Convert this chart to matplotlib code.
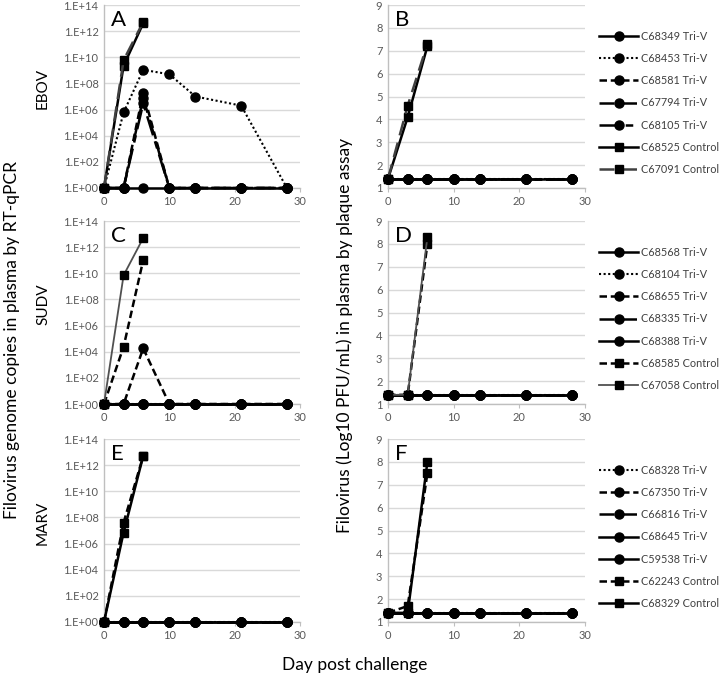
import matplotlib
matplotlib.use("Agg")
import math
import matplotlib.pyplot as plt
from matplotlib.ticker import FixedLocator, FuncFormatter

plt.rcParams['font.family'] = ['Lato', 'DejaVu Sans']

days = [0, 3, 6, 10, 14, 21, 28]

# EBOV (A: RT-qPCR, B: plaque)
ebov_names = ["C68349 Tri-V", "C68453 Tri-V", "C68581 Tri-V", "C67794 Tri-V",
              "C68105 Tri-V", "C68525 Control", "C67091 Control"]
ebov_pcr = [
    [1, 1, 1, 1, 1, 1, 1],
    [1, 6e5, 1.1e9, 5e8, 1e7, 2e6, 1],
    [1, 1, 2e7, 1, 1, 1, 1],
    [1, 1, 8e6, 1, 1, 1, 1],
    [1, 1, 3e6, 1, 1, 1, 1],
    [1, 2.3e9, 4e12],
    [1, 6e9, 5e12],
]
ebov_pfu = [
    [1.4] * 7, [1.4] * 7, [1.4] * 7, [1.4] * 7, [1.4] * 7,
    [1.4, 4.1, 7.2],
    [1.4, 4.6, 7.3],
]

# SUDV (C, D)
sudv_names = ["C68568 Tri-V", "C68104 Tri-V", "C68655 Tri-V", "C68335 Tri-V",
              "C68388 Tri-V", "C68585 Control", "C67058 Control"]
sudv_pcr = [
    [1, 1, 1, 1, 1, 1, 1],
    [1, 1, 1, 1, 1, 1, 1],
    [1, 1, 1.8e4, 1, 1, 1, 1],
    [1, 1, 1, 1, 1, 1, 1],
    [1, 1, 1, 1, 1, 1, 1],
    [1, 2.4e4, 1e11],
    [1, 7e9, 5e12],
]
sudv_pfu = [
    [1.4] * 7, [1.4] * 7, [1.4] * 7, [1.4] * 7, [1.4] * 7,
    [1.4, 1.4, 8.0],
    [1.4, 1.4, 8.3],
]

# MARV (E, F)
marv_names = ["C68328 Tri-V", "C67350 Tri-V", "C66816 Tri-V", "C68645 Tri-V",
              "C59538 Tri-V", "C62243 Control", "C68329 Control"]
marv_pcr = [
    [1, 1, 1, 1, 1, 1, 1],
    [1, 1, 1, 1, 1, 1, 1],
    [1, 1, 1, 1, 1, 1, 1],
    [1, 1, 1, 1, 1, 1, 1],
    [1, 1, 1, 1, 1, 1, 1],
    [1, 4e7, 5e12],
    [1, 7e6, 5e12],
]
marv_pfu = [
    [1.4] * 7, [1.4] * 7, [1.4] * 7, [1.4] * 7, [1.4] * 7,
    [1.4, 1.7, 7.5],
    [1.4, 1.4, 8.0],
]

DOT = (0, (1, 1.2))
SDASH = (0, (3, 1.5))
LDASH = (0, (6, 3))
DASHDOT = (0, (8, 2.5, 3, 2.5))

# (linestyle, marker, color, linewidth) per series
ebov_styles = [('-', 'o', 'black', 1.8), (DOT, 'o', 'black', 1.5), (SDASH, 'o', 'black', 1.8),
               (LDASH, 'o', 'black', 1.8), (DASHDOT, 'o', 'black', 1.8),
               ('-', 's', 'black', 1.8), (LDASH, 's', '#404040', 1.8)]
sudv_styles = [('-', 'o', 'black', 1.8), (DOT, 'o', 'black', 1.5), (SDASH, 'o', 'black', 1.8),
               (LDASH, 'o', 'black', 1.8), ('-', 'o', 'black', 1.8),
               (SDASH, 's', 'black', 1.8), ('-', 's', '#505050', 1.3)]
marv_styles = [(DOT, 'o', 'black', 1.5), (SDASH, 'o', 'black', 1.8), (LDASH, 'o', 'black', 1.8),
               ('-', 'o', 'black', 1.8), ('-', 'o', 'black', 1.8),
               (SDASH, 's', 'black', 1.8), ('-', 's', 'black', 1.8)]

fig = plt.figure(figsize=(7.2, 6.76), dpi=100)
W, H = 720.0, 676.0


def make_ax(x0, x1, ytop, ybot):
    return fig.add_axes([x0 / W, 1 - ybot / H, (x1 - x0) / W, (ybot - ytop) / H])


def style_ax(ax):
    for s in ['top', 'right']:
        ax.spines[s].set_visible(False)
    for s in ['left', 'bottom']:
        ax.spines[s].set_color('#bfbfbf')
        ax.spines[s].set_linewidth(1)
    ax.grid(axis='y', color='#d9d9d9', linewidth=1)
    ax.set_axisbelow(True)
    ax.set_xlim(0, 30)
    ax.xaxis.set_major_locator(FixedLocator([0, 10, 20, 30]))
    ax.tick_params(axis='x', colors='#bfbfbf', labelcolor='#595959', labelsize=8,
                   length=3, direction='out', pad=3)
    ax.tick_params(axis='y', length=0, labelcolor='#595959', labelsize=8, pad=4)


def draw(ax, names, data, styles, log):
    for name, vals, st in zip(names, data, styles):
        ls, mk, col, lw = st
        xs = days[:len(vals)]
        ax.plot(xs, vals, linestyle=ls, marker=mk, color=col, linewidth=lw,
                markerfacecolor='black', markeredgecolor='black',
                markersize=6.5 if mk == 'o' else 6, label=name, clip_on=False,
                zorder=3 + (2 if mk == 's' else 0))
    if log:
        ax.set_yscale('log')
        ax.set_ylim(1, 1e14)
        ax.yaxis.set_major_locator(FixedLocator([10.0 ** k for k in range(0, 15, 2)]))
        ax.yaxis.set_minor_locator(FixedLocator([]))
        ax.yaxis.set_major_formatter(FuncFormatter(lambda v, p: "1.E+%02d" % round(math.log10(v))))
    else:
        ax.set_ylim(1, 9)
        ax.yaxis.set_major_locator(FixedLocator(range(1, 10)))
    style_ax(ax)


rows = [
    (ebov_names, ebov_pcr, ebov_pfu, ebov_styles, 5, 188, 'A', 'B', 'EBOV'),
    (sudv_names, sudv_pcr, sudv_pfu, sudv_styles, 221, 404, 'C', 'D', 'SUDV'),
    (marv_names, marv_pcr, marv_pfu, marv_styles, 439, 622, 'E', 'F', 'MARV'),
]

for names, pcr, pfu, styles, yt, yb, la, lb, virus in rows:
    axl = make_ax(104, 300, yt, yb)
    draw(axl, names, pcr, styles, True)
    axl.text(0.035, 0.975, la, transform=axl.transAxes, fontsize=16, ha='left', va='top')
    fig.text(43 / W, 1 - ((yt + yb) / 2 - 8) / H, virus, rotation=90, fontsize=11,
             ha='center', va='center')

    axr = make_ax(388, 585, yt, yb)
    draw(axr, names, pfu, styles, False)
    axr.text(0.035, 0.975, lb, transform=axr.transAxes, fontsize=16, ha='left', va='top')
    leg = axr.legend(loc='center left', bbox_to_anchor=(1.05, 0.465), frameon=False,
                     fontsize=7.8, handlelength=3.6, handletextpad=0.3, labelspacing=1.03,
                     borderaxespad=0)
    for t in leg.get_texts():
        t.set_color('#404040')

fig.text(12 / W, 1 - 340 / H, "Filovirus genome copies in plasma by RT-qPCR", rotation=90,
         fontsize=12.5, ha='center', va='center')
fig.text(345 / W, 1 - 335 / H, "Filovirus (Log10 PFU/mL) in plasma by plaque assay", rotation=90,
         fontsize=12.5, ha='center', va='center')
fig.text(355 / W, 1 - 665 / H, "Day post challenge", fontsize=12.5, ha='center', va='center')

fig.savefig("out.png", dpi=100)
